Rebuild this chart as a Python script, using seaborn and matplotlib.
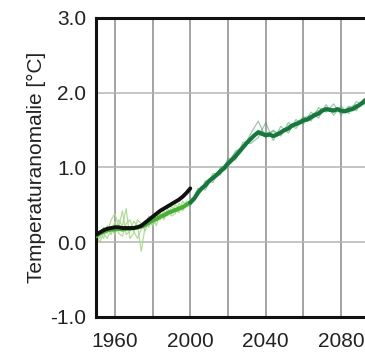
import matplotlib
matplotlib.use("Agg")
import matplotlib.pyplot as plt
import numpy as np
import pandas as pd
import seaborn as sns

# Observed record, 1950-2000 (2-year steps)
obs_years = list(range(1950, 2001, 2))
obs_temp = [0.10, 0.13, 0.16, 0.18, 0.19, 0.20, 0.20, 0.19, 0.19, 0.19, 0.19, 0.20, 0.22,
            0.26, 0.30, 0.34, 0.38, 0.42, 0.45, 0.48, 0.51, 0.54, 0.57, 0.61, 0.66, 0.72]

# Simulated historical period: ensemble mean and members (2-year steps)
hist_years = list(range(1950, 2001, 2))
hist_mean = [0.08, 0.12, 0.14, 0.16, 0.17, 0.17, 0.18, 0.17, 0.18, 0.18, 0.19, 0.20, 0.21,
             0.23, 0.26, 0.29, 0.31, 0.34, 0.36, 0.39, 0.41, 0.43, 0.45, 0.47, 0.50, 0.53]
hist_run1 = [0.02, 0.15, 0.05, 0.22, 0.10, 0.28, 0.12, 0.08, 0.25, 0.30, 0.15, 0.05, 0.18,
             0.28, 0.20, 0.35, 0.22, 0.40, 0.30, 0.45, 0.35, 0.38, 0.52, 0.44, 0.55, 0.50]
hist_run2 = [0.15, 0.05, 0.20, 0.12, 0.30, 0.38, 0.20, 0.42, 0.10, 0.15, 0.28, 0.22, -0.12,
             0.20, 0.35, 0.25, 0.38, 0.30, 0.42, 0.35, 0.48, 0.42, 0.40, 0.55, 0.48, 0.58]
hist_run3 = [0.10, 0.00, 0.12, 0.05, 0.18, 0.10, 0.30, 0.22, 0.45, 0.05, 0.12, 0.30, 0.25,
             0.15, 0.28, 0.22, 0.30, 0.36, 0.32, 0.40, 0.38, 0.50, 0.46, 0.42, 0.52, 0.55]

# Scenario period: ensemble mean (2-year steps) and members (4-year steps)
scen_years = list(range(2000, 2101, 2))
scen_mean = [0.53, 0.58, 0.66, 0.72, 0.76, 0.82, 0.86, 0.90, 0.95, 0.99, 1.05, 1.10, 1.15,
             1.21, 1.27, 1.33, 1.38, 1.43, 1.47, 1.45, 1.43, 1.44, 1.42, 1.44, 1.47, 1.50,
             1.52, 1.56, 1.58, 1.60, 1.63, 1.64, 1.67, 1.70, 1.72, 1.76, 1.78, 1.77, 1.76,
             1.78, 1.76, 1.75, 1.77, 1.78, 1.81, 1.84, 1.88, 1.92, 1.94, 1.96, 1.98]
run_years = list(range(2000, 2101, 4))
scen_run1 = [0.58, 0.62, 0.82, 0.80, 1.00, 1.02, 1.22, 1.25, 1.45, 1.62, 1.40, 1.50, 1.42,
             1.60, 1.52, 1.68, 1.62, 1.80, 1.74, 1.85, 1.70, 1.82, 1.76, 1.92, 1.90, 2.02]
scen_run2 = [0.48, 0.72, 0.70, 0.92, 0.90, 1.12, 1.10, 1.34, 1.32, 1.40, 1.60, 1.36, 1.55,
             1.46, 1.64, 1.58, 1.74, 1.66, 1.84, 1.70, 1.82, 1.72, 1.88, 1.84, 1.98, 1.95]
scen_run3 = [0.52, 0.64, 0.80, 0.88, 0.98, 1.08, 1.20, 1.30, 1.36, 1.50, 1.46, 1.48, 1.44,
             1.56, 1.60, 1.66, 1.70, 1.76, 1.80, 1.78, 1.74, 1.80, 1.84, 1.86, 1.92, 1.98]

x_ticks = [1960, 2000, 2040, 2080]
y_ticks = [-1.0, 0.0, 1.0, 2.0, 3.0]
y_label = "Temperaturanomalie [°C]"

sns.set_style("white")
plt.rcParams["font.family"] = ["Liberation Sans", "DejaVu Sans"]

fig = plt.figure(figsize=(3.65, 3.56), dpi=100)
ax = fig.add_axes([0.263, 0.1096, 0.775, 0.840])

# Ensemble members (thin)
for run in (hist_run1, hist_run2, hist_run3):
    sns.lineplot(x=hist_years, y=run, ax=ax, color="#a9d98c", lw=0.9, alpha=0.9, zorder=2)
for run in (scen_run1, scen_run2, scen_run3):
    sns.lineplot(x=run_years, y=run, ax=ax, color="#4f9a6a", lw=0.9, alpha=0.55, zorder=2)

# Ensemble means (thick)
sns.lineplot(x=hist_years, y=hist_mean, ax=ax, color="#45b233", lw=3.0, zorder=3)
sns.lineplot(x=scen_years, y=scen_mean, ax=ax, color="#137a3a", lw=3.0, zorder=3)

# Observations
sns.lineplot(x=obs_years, y=obs_temp, ax=ax, color="#111111", lw=2.8, zorder=4)

ax.set_xlim(1950, 2100)
ax.set_ylim(-1.0, 3.0)

# Grid every 20 years / 1 degree
grid_years = list(range(1960, 2101, 20))
ax.set_xticks(grid_years)
ax.set_xticklabels([str(y) if y in x_ticks else "" for y in grid_years])
ax.set_yticks(y_ticks)
ax.set_yticklabels([f"{v:.1f}" for v in y_ticks])

ax.grid(True, axis="x", color="#8a8a8a", lw=1.1, zorder=1)
ax.grid(True, axis="y", color="#b4b4b4", lw=1.1, zorder=1)
ax.set_axisbelow(True)

ax.tick_params(axis="x", direction="out", length=5.8, width=1.1, color="#8a8a8a",
               pad=5, labelsize=15, labelcolor="#222222")
ax.tick_params(axis="y", direction="out", length=3, width=1.1, color="#b4b4b4",
               pad=4, labelsize=15, labelcolor="#222222")

for side in ("left", "top", "bottom"):
    ax.spines[side].set_color("#111111")
    ax.spines[side].set_linewidth(2.2)
ax.spines["right"].set_visible(False)

ax.set_xlabel("")
ax.set_ylabel(y_label, fontsize=15, color="#222222", labelpad=3)

fig.savefig("out.png", dpi=100)
